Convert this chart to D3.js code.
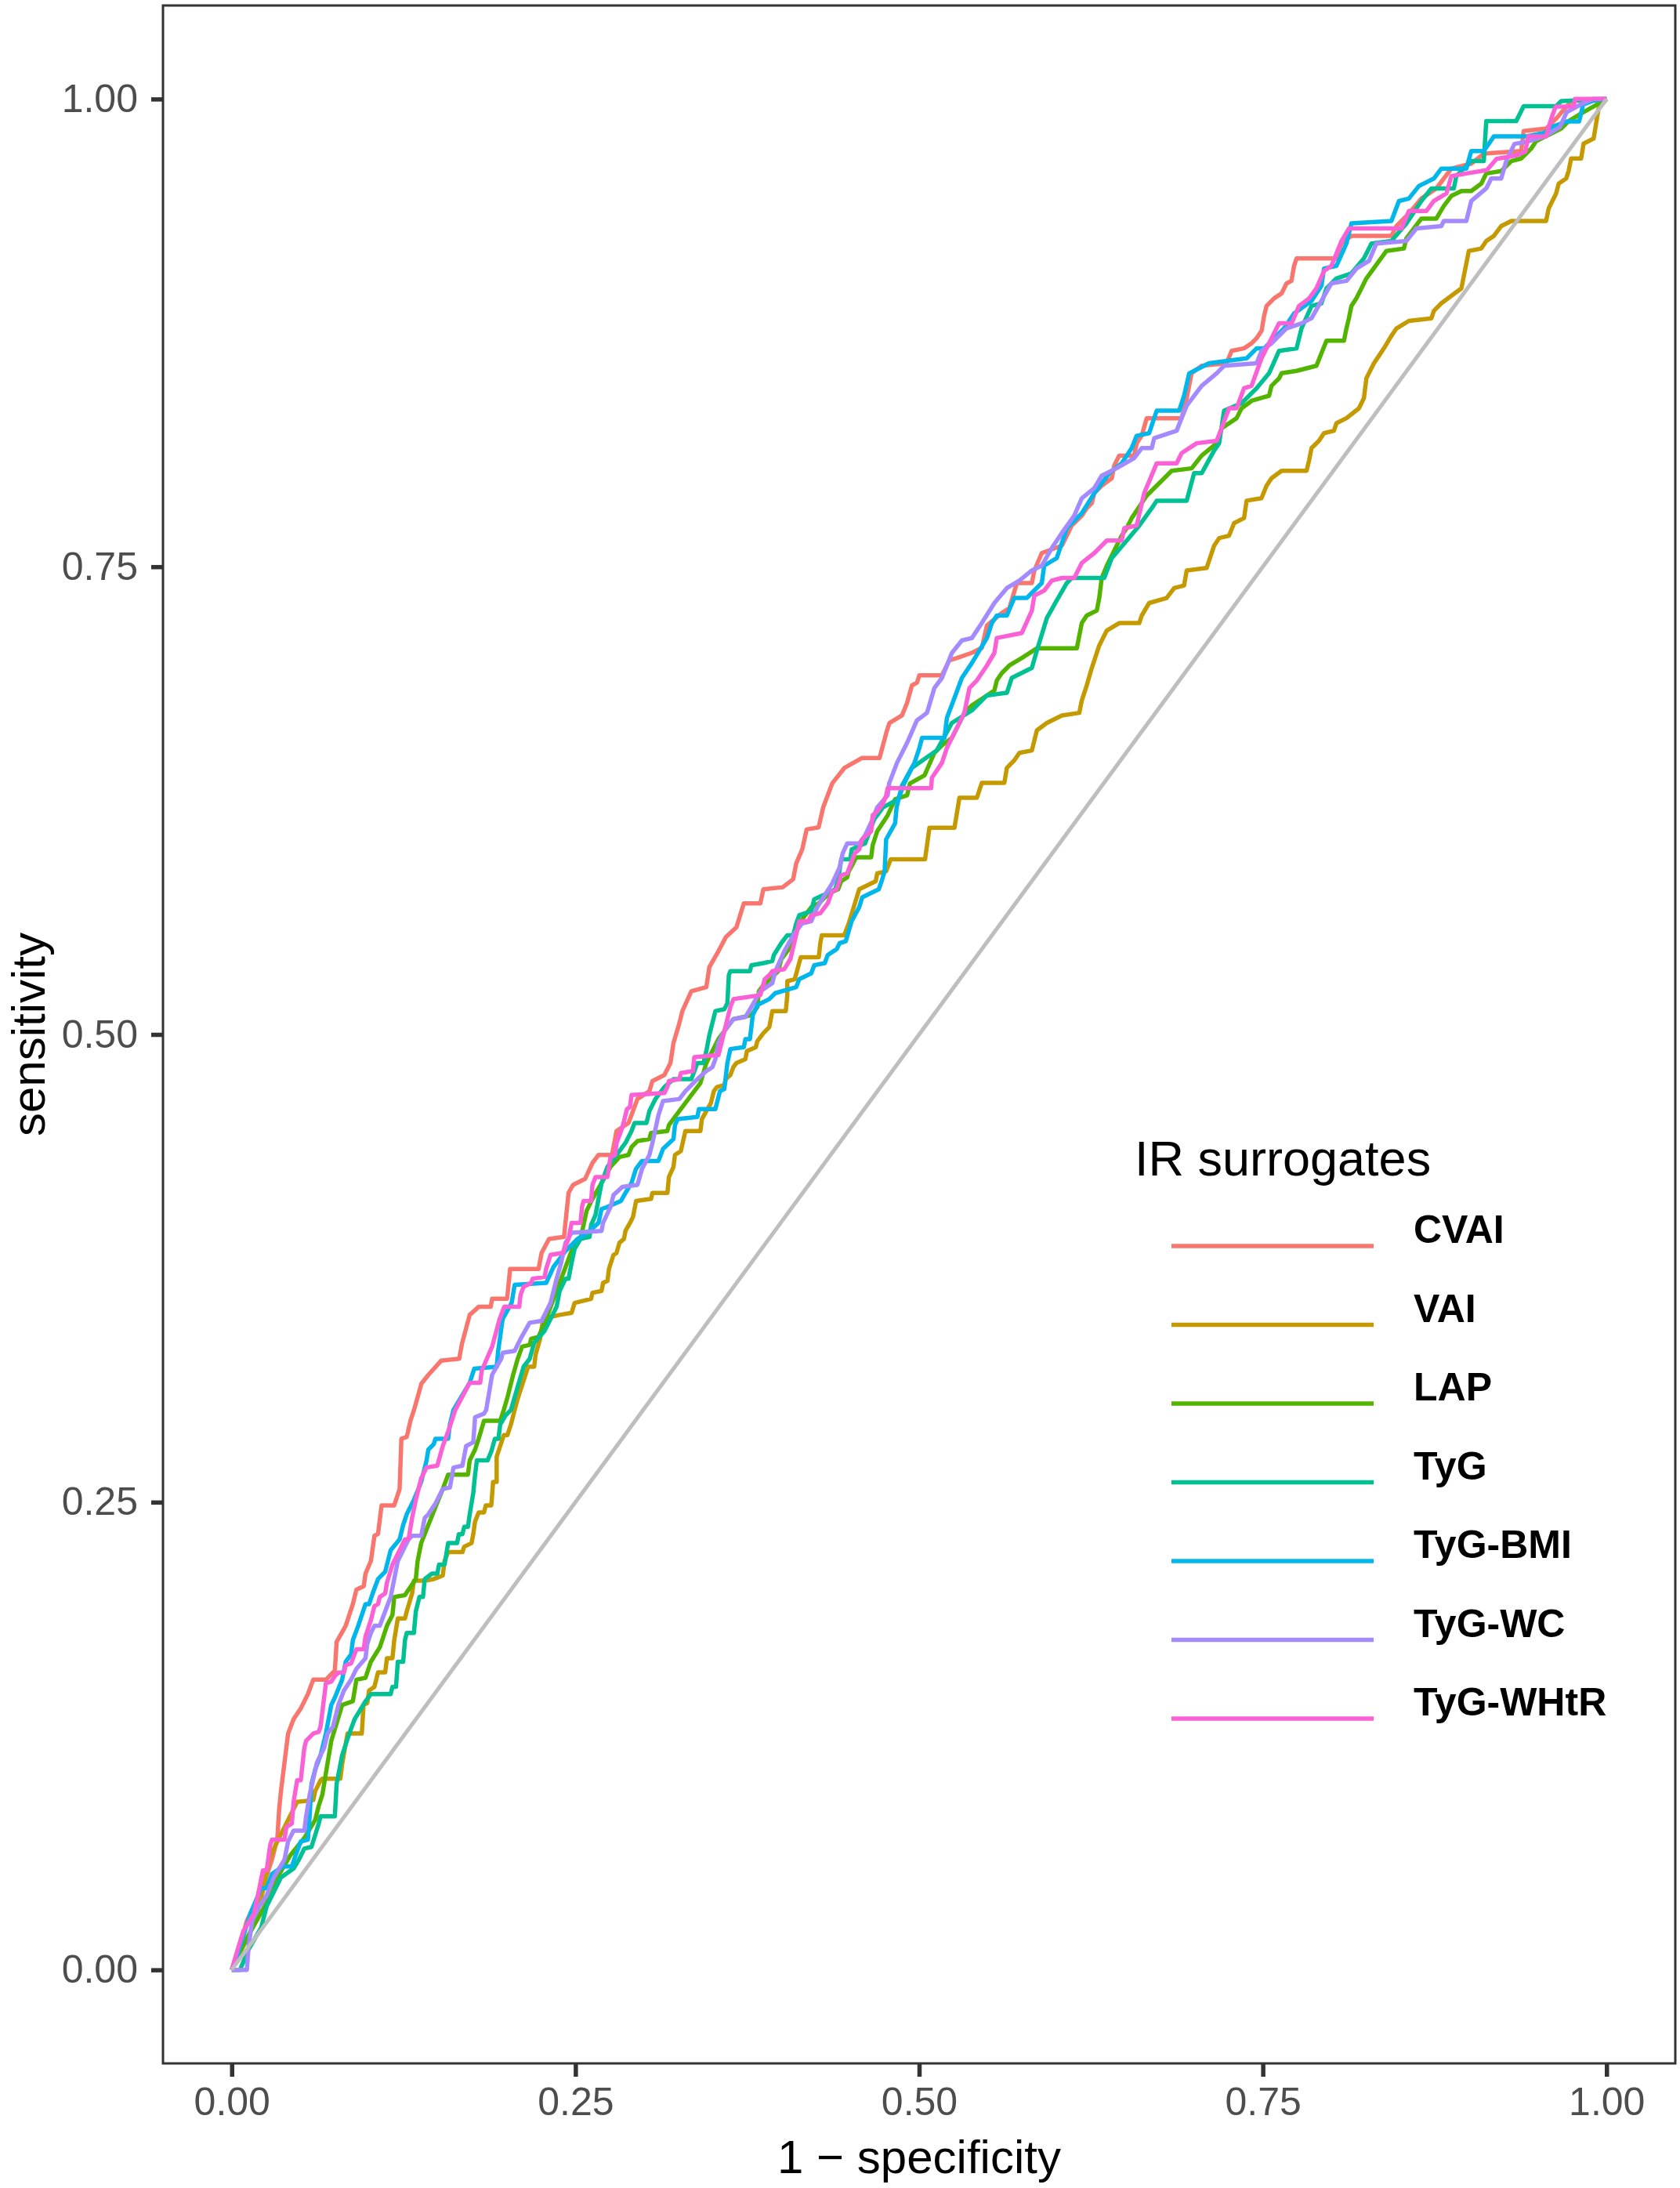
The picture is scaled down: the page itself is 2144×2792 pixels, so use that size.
<!DOCTYPE html>
<html>
<head>
<meta charset="utf-8">
<script src="https://cdn.jsdelivr.net/npm/d3@7"></script>
<style>
  body { margin: 0; background: #fff; }
  text { font-family: "Liberation Sans", Arial, Helvetica, sans-serif; }
</style>
</head>
<body>
<svg id="chart"></svg>
<script>
// legend order = draw order (ggplot factor levels)
const seriesNames = ["CVAI", "VAI", "LAP", "TyG", "TyG-BMI", "TyG-WC", "TyG-WHtR"];
const seriesColors = ["#F8766D", "#C49A00", "#53B400", "#00C094", "#00B6EB", "#A58AFF", "#FB61D7"];
const axisTicks = [0, 0.25, 0.5, 0.75, 1];
const chanceLine = [[0, 0], [1, 1]];

// [1 - specificity, sensitivity]
const cvai = [[0,0],[.005,.01],[.011,.0263],[.0214,.0417],[.0293,.059],[.0332,.0705],[.0345,.0859],[.0358,.0955],[.0384,.1109],[.041,.1263],[.045,.134],[.0502,.1397],[.0554,.1474],[.0593,.1551],[.0685,.1551],[.075,.16],[.0763,.1753],[.0829,.1839],[.0881,.1955],[.0907,.2032],[.096,.2051],[.0973,.2118],[.1012,.2185],[.1038,.232],[.1064,.233],[.109,.2483],[.1182,.2483],[.1221,.257],[.1234,.2839],[.1273,.2848],[.13,.2935],[.1326,.2993],[.138,.3134],[.143,.318],[.1523,.3256],[.1655,.3267],[.1674,.3345],[.1731,.3501],[.1796,.3544],[.1884,.3544],[.1894,.3587],[.2003,.3587],[.2025,.3747],[.2232,.3747],[.2254,.3832],[.2308,.3907],[.2417,.3918],[.245,.4153],[.2483,.4196],[.257,.4228],[.2624,.4313],[.2668,.4356],[.2766,.4356],[.2799,.4484],[.2886,.4527],[.2951,.4655],[.3038,.4697],[.306,.4751],[.3147,.4783],[.3191,.4847],[.3213,.4954],[.3256,.5061],[.3278,.5125],[.3343,.5231],[.3452,.5253],[.3474,.536],[.354,.5445],[.3594,.552],[.3671,.5573],[.3725,.5701],[.3845,.5701],[.3867,.5776],[.4008,.5787],[.4084,.583],[.4106,.5915],[.415,.599],[.4182,.6096],[.4269,.6107],[.4302,.6214],[.4368,.6342],[.4457,.6425],[.4585,.6478],[.4712,.6478],[.4766,.6625],[.4784,.6665],[.4875,.6705],[.4912,.6772],[.4948,.6866],[.4984,.688],[.5002,.692],[.5166,.692],[.522,.70],[.5275,.7012],[.5384,.704],[.5456,.7066],[.5493,.7186],[.5602,.7253],[.5656,.7279],[.5711,.7413],[.582,.7413],[.5838,.748],[.5892,.7573],[.6038,.7613],[.6074,.7666],[.611,.772],[.6183,.7773],[.6219,.7813],[.6256,.784],[.6274,.7893],[.6328,.7933],[.6401,.7973],[.6419,.804],[.6455,.8094],[.6564,.8094],[.6582,.816],[.6619,.82],[.6655,.8294],[.6909,.8294],[.6946,.8401],[.6982,.8534],[.7055,.8574],[.7236,.8588],[.7273,.8654],[.7364,.8668],[.7418,.8694],[.7454,.8721],[.7491,.8761],[.7509,.8841],[.7527,.8894],[.7581,.8934],[.7636,.8961],[.7672,.9014],[.7708,.9028],[.7727,.9108],[.7745,.9148],[.8035,.9148],[.8072,.9228],[.8144,.9268],[.8435,.9268],[.8472,.9321],[.8562,.9388],[.8653,.9468],[.8762,.9522],[.8871,.9628],[.9016,.9655],[.9107,.9708],[.9379,.9722],[.9397,.9829],[.9561,.9842],[.9633,.9895],[.9743,.9989],[1,1]];

const vai = [[0,0],[.005,.008],[.01,.015],[.0162,.0244],[.0227,.0423],[.028,.0609],[.0332,.0686],[.0384,.0763],[.0476,.0898],[.0593,.0907],[.0607,.0955],[.0646,.1013],[.0659,.1022],[.079,.1022],[.0803,.1099],[.0842,.1263],[.0946,.1263],[.0959,.1416],[.0986,.1426],[.0999,.1493],[.1038,.1513],[.1064,.159],[.1116,.159],[.1129,.1666],[.1169,.1666],[.1182,.1762],[.1208,.1878],[.126,.1878],[.1273,.1916],[.1312,.2012],[.1325,.208],[.1404,.208],[.1469,.2089],[.1535,.2108],[.1548,.2185],[.1574,.2233],[.1678,.2233],[.1691,.2262],[.1744,.2281],[.1757,.2329],[.177,.2397],[.1796,.2445],[.1835,.2445],[.1848,.2483],[.1888,.2483],[.1901,.2608],[.1927,.2608],[.1927,.2743],[.1953,.28],[.1979,.2858],[.2005,.2858],[.2031,.2916],[.2058,.2993],[.208,.3053],[.2156,.3224],[.22,.3224],[.221,.3288],[.2243,.3373],[.2265,.348],[.2385,.3501],[.2472,.3512],[.2494,.3565],[.2614,.3587],[.2624,.3619],[.269,.3629],[.2701,.3672],[.2733,.3683],[.2744,.3747],[.2777,.3822],[.2799,.3832],[.282,.3886],[.2853,.3907],[.2864,.395],[.2897,.3993],[.2919,.4025],[.2941,.411],[.305,.4121],[.306,.4153],[.3169,.4153],[.318,.4238],[.3213,.4292],[.3224,.4356],[.3267,.4377],[.33,.4484],[.3409,.4484],[.342,.4548],[.3485,.4633],[.3507,.4697],[.3529,.4719],[.3583,.4729],[.3594,.4761],[.3627,.4783],[.3649,.4826],[.3671,.4847],[.3736,.4868],[.3747,.4911],[.3812,.4932],[.3823,.4964],[.3867,.5007],[.391,.5039],[.3932,.5125],[.403,.5125],[.4041,.521],[.4041,.5285],[.4095,.5295],[.4139,.5413],[.427,.5413],[.4281,.5488],[.4292,.553],[.4455,.553],[.4488,.5594],[.4564,.5776],[.4684,.5819],[.4695,.5861],[.476,.5872],[.4793,.5936],[.5043,.5936],[.5075,.6105],[.5257,.6105],[.5293,.6265],[.542,.6265],[.5456,.6345],[.562,.6345],[.5638,.6425],[.5692,.6465],[.5729,.6505],[.582,.6518],[.5856,.6625],[.5929,.6665],[.6038,.6705],[.6165,.6719],[.6183,.6785],[.6219,.6866],[.6256,.6959],[.631,.7079],[.6365,.7159],[.6455,.7199],[.6601,.7199],[.6619,.7239],[.6673,.7306],[.68,.7333],[.6855,.7386],[.6927,.74],[.6946,.748],[.7091,.7493],[.7109,.7533],[.7146,.7613],[.7182,.7653],[.7254,.7666],[.7291,.7733],[.7363,.776],[.7382,.7853],[.749,.7866],[.7527,.7933],[.7563,.7973],[.7636,.8013],[.7818,.8013],[.7836,.8067],[.7854,.8134],[.7908,.8173],[.7945,.8214],[.8017,.8227],[.8035,.8267],[.8108,.8294],[.8199,.8347],[.8235,.8401],[.8253,.8507],[.8271,.8534],[.8308,.8588],[.8344,.8627],[.838,.8667],[.8435,.8734],[.8472,.8774],[.8562,.8814],[.8726,.8828],[.8744,.8868],[.8798,.8908],[.8871,.8948],[.8944,.8988],[.8962,.9055],[.898,.9121],[.8998,.9188],[.9089,.9201],[.9125,.9241],[.918,.9268],[.9234,.9321],[.9307,.9348],[.956,.9348],[.9579,.9415],[.9633,.9495],[.9652,.9548],[.9706,.9575],[.9724,.9615],[.9742,.9682],[.9815,.9682],[.9833,.9762],[.9906,.9789],[.9924,.9869],[.9942,.9949],[1,1]];

const lap = [[0,0],[.0044,.0071],[.0123,.0186],[.0254,.0359],[.0332,.0494],[.0424,.061],[.0528,.0705],[.0607,.0801],[.0633,.0878],[.0659,.0936],[.0698,.1109],[.0724,.1224],[.0803,.1416],[.0881,.1436],[.0894,.1493],[.0907,.1551],[.0973,.1561],[.1012,.1647],[.1077,.1724],[.1129,.1839],[.1169,.1897],[.1182,.1993],[.126,.2003],[.1286,.2032],[.1339,.2089],[.1352,.2185],[.1378,.2281],[.143,.2378],[.1482,.2474],[.1535,.257],[.1574,.2647],[.1718,.2647],[.1731,.2723],[.177,.2781],[.1796,.2839],[.1835,.2935],[.1953,.2935],[.1979,.2993],[.2003,.3053],[.2047,.3181],[.208,.3266],[.2112,.3331],[.2167,.3341],[.2178,.3373],[.2232,.3384],[.2287,.348],[.2341,.3587],[.2385,.3672],[.245,.38],[.2494,.3886],[.2537,.3907],[.2581,.4057],[.2624,.4121],[.269,.4206],[.2755,.4292],[.282,.4345],[.2886,.4356],[.2908,.4398],[.2951,.443],[.3038,.4441],[.3049,.4473],[.3169,.4484],[.318,.4516],[.3256,.4591],[.3343,.4676],[.3409,.474],[.3452,.4847],[.3496,.4911],[.354,.4975],[.3605,.5039],[.3649,.5082],[.3779,.5103],[.3823,.5146],[.3834,.5231],[.3867,.5263],[.3975,.5338],[.3997,.5402],[.4084,.5488],[.4128,.5594],[.4215,.568],[.427,.5701],[.4346,.5755],[.4411,.5776],[.4433,.5819],[.4477,.584],[.4488,.5872],[.452,.5915],[.4542,.5947],[.4651,.5947],[.4662,.6011],[.4695,.6086],[.4771,.6171],[.4825,.6257],[.4912,.6278],[.4934,.6342],[.5039,.6385],[.5111,.6505],[.5166,.6545],[.5238,.6585],[.5293,.6665],[.5329,.6719],[.5384,.6759],[.5493,.6812],[.5547,.6839],[.5565,.6892],[.5602,.6932],[.5656,.6972],[.5747,.7012],[.5856,.7064],[.6147,.7064],[.6183,.7199],[.6219,.7239],[.6292,.7266],[.631,.7333],[.6328,.744],[.6365,.7506],[.6437,.7613],[.6473,.7666],[.651,.7706],[.6546,.776],[.6619,.784],[.6655,.788],[.6728,.7933],[.6837,.8013],[.6982,.8026],[.7055,.8094],[.7164,.816],[.72,.824],[.7309,.8294],[.7345,.8347],[.7418,.8387],[.7545,.8414],[.7563,.8467],[.7618,.8507],[.7636,.8534],[.7745,.8547],[.789,.8574],[.7926,.8641],[.7963,.8708],[.809,.8708],[.8108,.8774],[.8126,.8828],[.8144,.8894],[.818,.8934],[.8217,.8988],[.8253,.9041],[.8399,.9188],[.8526,.9201],[.8544,.9255],[.8598,.9308],[.8653,.9361],[.8762,.9361],[.8816,.9428],[.8871,.9482],[.8944,.9508],[.9016,.9508],[.9089,.9548],[.9125,.9602],[.9234,.9615],[.9307,.9668],[.9379,.9682],[.9452,.9735],[.9488,.9775],[.9597,.9815],[.967,.9842],[.9724,.9882],[.9815,.9922],[1,1]];

const tyg = [[0,0],[.006,0],[.0123,.011],[.0214,.0225],[.0254,.034],[.0358,.0494],[.045,.0542],[.0489,.059],[.0528,.0648],[.058,.0657],[.0633,.0782],[.0646,.0821],[.075,.0821],[.0763,.0994],[.0803,.1147],[.0855,.1263],[.0894,.134],[.0973,.1436],[.1012,.1474],[.1156,.1474],[.1169,.1513],[.1195,.1513],[.1208,.1647],[.1247,.1647],[.126,.1762],[.1273,.1801],[.1325,.1801],[.1339,.1916],[.1365,.1993],[.1391,.1993],[.1404,.2089],[.1456,.2118],[.1495,.2118],[.1508,.2166],[.1548,.2166],[.1574,.2281],[.1639,.2281],[.1652,.2329],[.1678,.2329],[.1691,.2368],[.1718,.2368],[.1731,.2435],[.1757,.255],[.177,.2647],[.1783,.2723],[.1861,.2723],[.1888,.2771],[.1914,.2839],[.194,.2839],[.1953,.2916],[.1992,.2964],[.2031,.2993],[.208,.3117],[.2123,.3224],[.2167,.3266],[.22,.3352],[.2276,.3416],[.2363,.3544],[.2385,.3629],[.2428,.3694],[.245,.3694],[.2472,.3779],[.2494,.3854],[.2537,.3907],[.2603,.3918],[.2614,.3982],[.2646,.4035],[.2668,.4121],[.269,.4206],[.2733,.4292],[.2799,.4356],[.2864,.442],[.2908,.4484],[.293,.4527],[.3017,.4527],[.3038,.4591],[.3082,.4655],[.3147,.4719],[.3213,.4761],[.3343,.4761],[.3365,.4804],[.3387,.4847],[.3431,.4847],[.3452,.4911],[.3474,.4996],[.3518,.5125],[.3583,.5135],[.3605,.5167],[.3616,.5317],[.3627,.5338],[.3769,.5338],[.378,.537],[.3867,.5381],[.3932,.5392],[.3943,.5424],[.3997,.5488],[.4041,.553],[.4084,.553],[.4106,.5594],[.4128,.5637],[.4215,.5659],[.4237,.5723],[.4302,.5744],[.439,.5776],[.4411,.5829],[.4433,.5936],[.4499,.5936],[.451,.599],[.4607,.6021],[.4629,.6064],[.4673,.615],[.4738,.6214],[.4847,.6257],[.4869,.6299],[.4891,.6342],[.4948,.6425],[.5129,.6519],[.5238,.6665],[.5384,.6732],[.5493,.6812],[.5638,.6826],[.5674,.6906],[.582,.6959],[.5856,.7052],[.5929,.7226],[.6001,.732],[.6074,.7413],[.611,.744],[.6346,.744],[.6401,.7546],[.651,.764],[.6601,.772],[.6692,.7813],[.6728,.7853],[.6946,.7853],[.70,.80],[.7055,.80],[.7145,.812],[.7182,.816],[.7218,.8334],[.7345,.8374],[.7454,.8454],[.7545,.8534],[.7618,.8654],[.7745,.8667],[.7781,.8774],[.7854,.8894],[.7926,.8908],[.7963,.8988],[.8035,.9041],[.8144,.9068],[.8235,.9148],[.829,.9228],[.8435,.9241],[.8544,.9335],[.8653,.9455],[.8726,.9522],[.8889,.9522],[.8907,.9588],[.9016,.9669],[.9107,.9669],[.9125,.9882],[.9343,.9882],[.9397,.9962],[.9634,.9962],[.967,.9989],[1,1]];

const tygBmi = [[0,0],[.003,.005],[.0071,.0148],[.0136,.0302],[.0214,.0436],[.0254,.0436],[.0293,.0513],[.0371,.0552],[.0437,.0552],[.0463,.0609],[.0502,.0686],[.0554,.0696],[.0567,.0821],[.058,.0994],[.0607,.1071],[.0646,.1147],[.0685,.1263],[.0724,.1416],[.075,.1455],[.0803,.1551],[.0829,.1647],[.0868,.1686],[.0881,.1762],[.092,.1839],[.0973,.1955],[.0999,.1955],[.1025,.2012],[.1064,.2089],[.1116,.2128],[.1129,.2166],[.1156,.2243],[.1221,.2301],[.1247,.2378],[.1273,.2435],[.1325,.2512],[.1378,.2608],[.1417,.2723],[.143,.2781],[.1469,.281],[.1482,.2839],[.1574,.2839],[.1587,.2916],[.1613,.2993],[.1731,.3138],[.1764,.3213],[.1927,.3224],[.1938,.3309],[.1971,.348],[.2036,.3565],[.2058,.3662],[.2287,.3672],[.2341,.3758],[.2385,.38],[.2428,.3843],[.2515,.3907],[.2603,.395],[.2668,.3993],[.269,.4067],[.2733,.4078],[.2831,.411],[.2864,.4153],[.2908,.4206],[.294,.4281],[.2984,.4324],[.3104,.4324],[.3137,.4388],[.3213,.4441],[.3224,.4516],[.3245,.4548],[.3387,.4559],[.3398,.4601],[.3518,.4601],[.3551,.4697],[.3583,.4708],[.3605,.4847],[.3627,.4922],[.3725,.4932],[.3736,.4975],[.3769,.4975],[.379,.5103],[.3823,.5157],[.391,.5189],[.3954,.5221],[.4106,.5253],[.4128,.5295],[.4215,.5327],[.4237,.537],[.4313,.5381],[.4335,.5424],[.44,.5456],[.4422,.5488],[.4466,.5498],[.4509,.5605],[.4564,.568],[.4586,.5733],[.4706,.5776],[.4727,.5819],[.4749,.5872],[.476,.6043],[.4825,.6128],[.4836,.6214],[.4875,.633],[.4966,.6452],[.5002,.6532],[.5021,.6585],[.5184,.6585],[.5202,.6692],[.5257,.6799],[.5311,.6906],[.5384,.6986],[.5493,.7119],[.5529,.7199],[.5565,.7239],[.5638,.7239],[.5692,.7333],[.5783,.7333],[.5892,.7413],[.591,.7506],[.6001,.7546],[.6074,.7706],[.6183,.7786],[.6274,.7893],[.6383,.80],[.6473,.8053],[.6546,.8134],[.6582,.82],[.6673,.8214],[.6728,.8334],[.6891,.8334],[.6927,.8414],[.6964,.8534],[.7109,.8588],[.7382,.8614],[.7454,.8667],[.7509,.8667],[.7654,.8774],[.7727,.8854],[.7854,.8921],[.7926,.9001],[.7945,.9094],[.8035,.9108],[.8108,.9228],[.8144,.9335],[.8435,.9348],[.849,.9455],[.8562,.9468],[.8635,.9535],[.8744,.9575],[.8798,.9628],[.898,.9628],[.9016,.9722],[.9107,.9722],[.918,.98],[.941,.98],[.955,.982],[.96,.985],[.971,.988],[.98,.988],[.983,.997],[.99,.999],[1,1]];

const tygWc = [[0,0],[.011,0],[.0123,.0129],[.0149,.0263],[.0201,.034],[.0254,.0398],[.0306,.0494],[.0384,.059],[.041,.0686],[.045,.0744],[.0528,.0744],[.0541,.0821],[.0567,.0936],[.062,.1109],[.0672,.1186],[.0698,.1263],[.0737,.1301],[.0776,.1416],[.0816,.1493],[.0868,.1551],[.0907,.1609],[.0973,.1666],[.0986,.1743],[.1012,.1801],[.1038,.1839],[.1077,.1839],[.1116,.1916],[.1156,.1993],[.1182,.2089],[.1208,.2185],[.126,.2262],[.1286,.2301],[.1312,.232],[.1378,.232],[.1404,.2416],[.143,.2435],[.1482,.2493],[.1535,.257],[.1587,.2579],[.1613,.2685],[.1678,.2695],[.1705,.28],[.1757,.282],[.177,.2954],[.1835,.2973],[.1851,.2993],[.1894,.3181],[.196,.3266],[.1971,.3298],[.2058,.3309],[.2101,.3373],[.2167,.3459],[.2254,.3469],[.2319,.3565],[.2363,.3694],[.2396,.3779],[.2428,.3886],[.2472,.394],[.269,.395],[.2701,.3993],[.2755,.4078],[.2777,.4142],[.2842,.4185],[.2951,.4196],[.2984,.4281],[.3038,.4356],[.306,.442],[.3104,.4569],[.3137,.4644],[.3256,.4655],[.33,.4697],[.3387,.4761],[.3452,.4804],[.3496,.4825],[.3518,.4868],[.354,.4954],[.3583,.5018],[.3649,.5082],[.3736,.5093],[.3779,.5146],[.3845,.5231],[.3932,.5274],[.3954,.5338],[.4019,.5445],[.4084,.553],[.415,.5594],[.4215,.5605],[.4259,.568],[.4313,.5744],[.4368,.5808],[.4422,.5894],[.4444,.5968],[.4477,.6021],[.4564,.6021],[.4607,.6064],[.4662,.615],[.4695,.6214],[.4771,.6278],[.4782,.6342],[.4839,.6452],[.4912,.6558],[.4984,.6679],[.5057,.6719],[.5111,.6852],[.5166,.6906],[.5238,.7039],[.5311,.7106],[.5384,.7119],[.5456,.7199],[.5547,.7306],[.5638,.7386],[.5729,.7426],[.582,.748],[.5892,.7506],[.5965,.76],[.6038,.768],[.6128,.7773],[.6183,.7866],[.6274,.792],[.6328,.7987],[.6437,.8027],[.6564,.808],[.6619,.8134],[.6692,.8134],[.671,.8187],[.6873,.8227],[.6909,.8294],[.6946,.8361],[.7055,.8467],[.7164,.8534],[.7218,.8574],[.7454,.8588],[.7491,.8654],[.7563,.8694],[.7672,.8774],[.7781,.8801],[.7854,.8828],[.7926,.8921],[.7999,.9015],[.8108,.9028],[.8181,.9094],[.8272,.9135],[.8326,.9228],[.8544,.9241],[.8617,.9308],[.8798,.9321],[.8816,.9348],[.898,.9348],[.9016,.9455],[.9125,.9522],[.9161,.9575],[.9234,.9575],[.927,.9669],[.933,.976],[.941,.977],[.955,.98],[.966,.985],[.971,.993],[.981,.997],[.99,1],[1,1]];

const tygWhtr = [[0,0],[.0044,.011],[.0084,.0206],[.0162,.0302],[.0201,.0436],[.0227,.0532],[.0254,.0532],[.028,.0667],[.0293,.0696],[.0384,.0696],[.0397,.0763],[.0437,.0782],[.045,.0898],[.0476,.1013],[.0502,.1013],[.0528,.1186],[.0541,.1224],[.0593,.1263],[.0633,.1272],[.0646,.1301],[.0659,.1378],[.0685,.1532],[.0724,.1541],[.075,.157],[.0776,.1589],[.0816,.1589],[.0829,.1628],[.0868,.1638],[.0907,.1714],[.096,.1714],[.0973,.1782],[.1012,.1868],[.1038,.1945],[.1064,.1955],[.1077,.1993],[.1116,.2012],[.1129,.207],[.1169,.2166],[.1221,.2243],[.126,.2301],[.1286,.2301],[.1312,.2416],[.1339,.2512],[.1378,.2627],[.1417,.2685],[.1495,.2695],[.1535,.28],[.1574,.2877],[.1626,.2993],[.1731,.3138],[.1807,.3138],[.1818,.3202],[.1894,.3331],[.1949,.348],[.1982,.3544],[.2091,.3544],[.2101,.3608],[.2123,.3651],[.2178,.3672],[.2189,.3694],[.2276,.3704],[.2287,.3747],[.2319,.3822],[.2407,.3832],[.245,.3907],[.2472,.3993],[.2537,.3993],[.2548,.4078],[.2559,.411],[.2614,.411],[.2624,.4196],[.2646,.4238],[.2733,.4238],[.2744,.4292],[.2755,.4345],[.2788,.4356],[.2799,.442],[.2842,.4505],[.2875,.4601],[.2897,.4612],[.2908,.4676],[.3147,.4687],[.3169,.4719],[.318,.4751],[.3256,.4761],[.3267,.4794],[.3354,.4804],[.3365,.4879],[.354,.489],[.3562,.4954],[.3605,.5082],[.3627,.5146],[.3649,.5189],[.3845,.521],[.3877,.5295],[.391,.5317],[.3932,.5338],[.4019,.5349],[.4063,.5402],[.4084,.5466],[.4128,.5605],[.4193,.5605],[.4215,.5637],[.4281,.5648],[.4335,.5701],[.4368,.5765],[.44,.5776],[.4433,.5851],[.4477,.5861],[.4509,.5925],[.4531,.5968],[.4564,.599],[.4586,.6043],[.4651,.6086],[.4662,.6171],[.4695,.6192],[.4738,.6235],[.476,.6278],[.4771,.6316],[.5087,.6316],[.5093,.6372],[.5166,.6452],[.5202,.6532],[.5275,.6639],[.5329,.6719],[.5366,.6852],[.542,.6892],[.5493,.6972],[.5547,.7039],[.5565,.7119],[.5747,.7146],[.582,.7266],[.5838,.7346],[.591,.7373],[.5965,.7426],[.6038,.744],[.6128,.744],[.6183,.752],[.6274,.7573],[.6365,.764],[.6473,.764],[.6492,.7706],[.6582,.772],[.6637,.7893],[.6728,.8053],[.6873,.8053],[.6909,.8107],[.7018,.816],[.7164,.8173],[.72,.824],[.7254,.8347],[.7309,.8347],[.7363,.8454],[.7418,.8467],[.749,.8614],[.7563,.8721],[.7618,.8801],[.7709,.8801],[.7763,.8894],[.7836,.8934],[.789,.8988],[.7945,.9081],[.7999,.9108],[.8072,.9241],[.8126,.9308],[.8508,.9308],[.8562,.9401],[.8689,.9401],[.8744,.9455],[.8835,.9495],[.8871,.9588],[.898,.9602],[.913,.962],[.92,.968],[.935,.97],[.941,.972],[.943,.98],[.956,.98],[.96,.99],[.963,.996],[.976,.996],[.977,1],[1,1]];

const seriesData = [cvai, vai, lap, tyg, tygBmi, tygWc, tygWhtr];

const width = 2144, height = 2792;
const panel = {left: 208, right: 2138, top: 7, bottom: 2633};
const tickColor = "#333333";
const fmt = d3.format(".2f");

const svg = d3.select("#chart")
    .attr("width", width)
    .attr("height", height)
    .attr("viewBox", `0 0 ${width} ${height}`);

svg.append("rect")
    .attr("width", width)
    .attr("height", height)
    .attr("fill", "#ffffff");

// ggplot default expansion: 5% on each side
const x = d3.scaleLinear().domain([-0.05, 1.05]).range([panel.left, panel.right]);
const y = d3.scaleLinear().domain([-0.05, 1.05]).range([panel.bottom, panel.top]);

/**
 * Axes with ggplot-like outward ticks.
 */
const yAxis = svg.append("g")
    .attr("transform", `translate(${panel.left},0)`)
    .call(d3.axisLeft(y).tickValues(axisTicks).tickFormat(fmt).tickSize(15).tickPadding(17));
const xAxis = svg.append("g")
    .attr("transform", `translate(0,${panel.bottom})`)
    .call(d3.axisBottom(x).tickValues(axisTicks).tickFormat(fmt).tickSize(17).tickPadding(13));

[xAxis, yAxis].forEach(ax => {
    ax.select(".domain").remove();
    ax.selectAll(".tick line")
        .attr("stroke", tickColor)
        .attr("stroke-width", 5.5);
    ax.selectAll(".tick text")
        .attr("fill", "#4D4D4D")
        .attr("font-size", 50)
        .attr("font-family", "Liberation Sans, Arial, sans-serif");
});

// ROC curves
const line = d3.line()
    .x(d => x(d[0]))
    .y(d => y(d[1]));

svg.append("g")
    .selectAll("path")
    .data(seriesData)
    .join("path")
    .attr("d", line)
    .attr("fill", "none")
    .attr("stroke", (_, i) => seriesColors[i])
    .attr("stroke-width", 5.5)
    .attr("stroke-linejoin", "round");

// reference diagonal on top
svg.append("path")
    .datum(chanceLine)
    .attr("d", line)
    .attr("fill", "none")
    .attr("stroke", "#BEBEBE")
    .attr("stroke-width", 5);

// panel border
svg.append("rect")
    .attr("x", panel.left)
    .attr("y", panel.top)
    .attr("width", panel.right - panel.left)
    .attr("height", panel.bottom - panel.top)
    .attr("fill", "none")
    .attr("stroke", tickColor)
    .attr("stroke-width", 3);

// axis titles
svg.append("text")
    .attr("x", (panel.left + panel.right) / 2)
    .attr("y", 2773)
    .attr("text-anchor", "middle")
    .attr("font-size", 60)
    .attr("fill", "#000")
    .text("1 \u2212 specificity");

svg.append("text")
    .attr("transform", `translate(57,${(panel.top + panel.bottom) / 2}) rotate(-90)`)
    .attr("text-anchor", "middle")
    .attr("font-size", 60)
    .attr("fill", "#000")
    .text("sensitivity");

// legend
const legend = svg.append("g");
const legendTop = 1590, legendStep = 100.5;

legend.append("text")
    .attr("x", 1448)
    .attr("y", 1500)
    .attr("font-size", 63)
    .attr("fill", "#000")
    .text("IR surrogates");

const keys = legend.selectAll(".key")
    .data(seriesNames)
    .join("g")
    .classed("key", true)
    .attr("transform", (_, i) => `translate(0,${legendTop + i * legendStep})`);

keys.append("line")
    .attr("x1", 1495)
    .attr("x2", 1753)
    .attr("stroke", (_, i) => seriesColors[i])
    .attr("stroke-width", 5.5);

keys.append("text")
    .attr("x", 1804)
    .attr("y", -4)
    .attr("font-size", 50)
    .attr("font-weight", "bold")
    .attr("fill", "#000")
    .text(d => d);
</script>
</body>
</html>
